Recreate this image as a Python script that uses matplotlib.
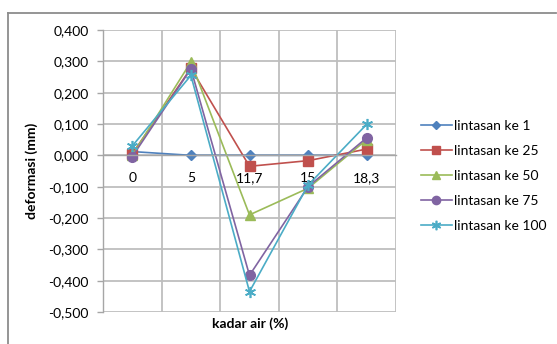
import matplotlib
matplotlib.use("Agg")
import matplotlib.pyplot as plt
from matplotlib.lines import Line2D
from matplotlib.ticker import FixedLocator, FuncFormatter

plt.rcParams['font.family'] = ['Lato', 'DejaVu Sans']

categories = ["0", "5", "11,7", "15", "18,3"]
series_names = ["lintasan ke 1", "lintasan ke 25", "lintasan ke 50",
                "lintasan ke 75", "lintasan ke 100"]
s1 = [0.012, 0.000, 0.000, 0.000, 0.000]
s25 = [0.005, 0.278, -0.035, -0.017, 0.020]
s50 = [0.000, 0.298, -0.190, -0.105, 0.050]
s75 = [-0.004, 0.276, -0.383, -0.100, 0.056]
s100 = [0.030, 0.255, -0.435, -0.095, 0.099]
y_ticks = [-0.5, -0.4, -0.3, -0.2, -0.1, 0.0, 0.1, 0.2, 0.3, 0.4]

colors = ["#4F81BD", "#C0504D", "#9BBB59", "#8064A2", "#4BACC6"]
markers = ["D", "s", "^", "o", (6, 2, 0)]
msizes = [5, 6.5, 7, 7, 8]

W, H = 557, 344
fig = plt.figure(figsize=(W / 100, H / 100), dpi=100)
ax = fig.add_axes([103 / W, 1 - 312 / H, (396 - 103) / W, (312 - 30) / H])

x = list(range(len(categories)))
for vals, name, c, m, ms in zip([s1, s25, s50, s75, s100], series_names,
                                colors, markers, msizes):
    ax.plot(x, vals, color=c, lw=1.2, marker=m, markersize=ms,
            markerfacecolor=c, markeredgecolor=c,
            markeredgewidth=1.0 if m != markers[4] else 1.2,
            label=name, clip_on=False)

ax.set_xlim(-0.5, len(categories) - 0.5)
ax.set_ylim(y_ticks[0], y_ticks[-1])

grid_c = "#BEBEBE"
ax.yaxis.set_major_locator(FixedLocator(y_ticks))
ax.yaxis.set_major_formatter(FuncFormatter(lambda v, p: f"{v:.3f}".replace(".", ",")))
ax.xaxis.set_major_locator(FixedLocator(x))
ax.set_xticklabels(categories)
ax.xaxis.set_minor_locator(FixedLocator([i - 0.5 for i in range(len(categories) + 1)]))
ax.grid(True, which="major", axis="y", color=grid_c, lw=1.3)
ax.grid(True, which="minor", axis="x", color=grid_c, lw=1.3)
ax.set_axisbelow(True)

for side in ["top", "right"]:
    ax.spines[side].set_visible(False)
ax.spines["left"].set_color("#A6A6A6")
ax.spines["left"].set_linewidth(1.0)
ax.spines["bottom"].set_position(("data", 0))
ax.spines["bottom"].set_color("#A6A6A6")
ax.spines["bottom"].set_linewidth(1.0)

ax.tick_params(axis="y", which="major", length=4, width=1, color="#A6A6A6",
               labelsize=10, pad=6.5, labelcolor="#000000")
ax.tick_params(axis="x", which="major", length=0, labelsize=10, pad=12)
ax.tick_params(axis="x", which="minor", length=0)

ax.set_ylabel("deformasi (mm)", fontsize=10, fontweight="bold", labelpad=7)
fig.text(250 / W, 1 - 324 / H, "kadar air (%)", fontsize=10, fontweight="bold",
         ha="center", va="center")

leg = fig.legend(loc="upper left", bbox_to_anchor=(414 / W, 1 - 113 / H),
                 frameon=False, fontsize=10, handlelength=2.2, handletextpad=0.15,
                 labelspacing=0.93, borderpad=0)
for h in leg.legend_handles:
    h.set_markersize(h.get_markersize() * 0.85)

# chart area frame
frame_c = "#8C8C8C"
fig.add_artist(Line2D([7.5 / W, 7.5 / W], [1 - 12.5 / H, 0], color=frame_c, lw=1.3,
                      transform=fig.transFigure))
fig.add_artist(Line2D([7.5 / W, 556 / W], [1 - 12.5 / H, 1 - 12.5 / H], color=frame_c,
                      lw=1.3, transform=fig.transFigure))

fig.savefig("out.png", dpi=100)
